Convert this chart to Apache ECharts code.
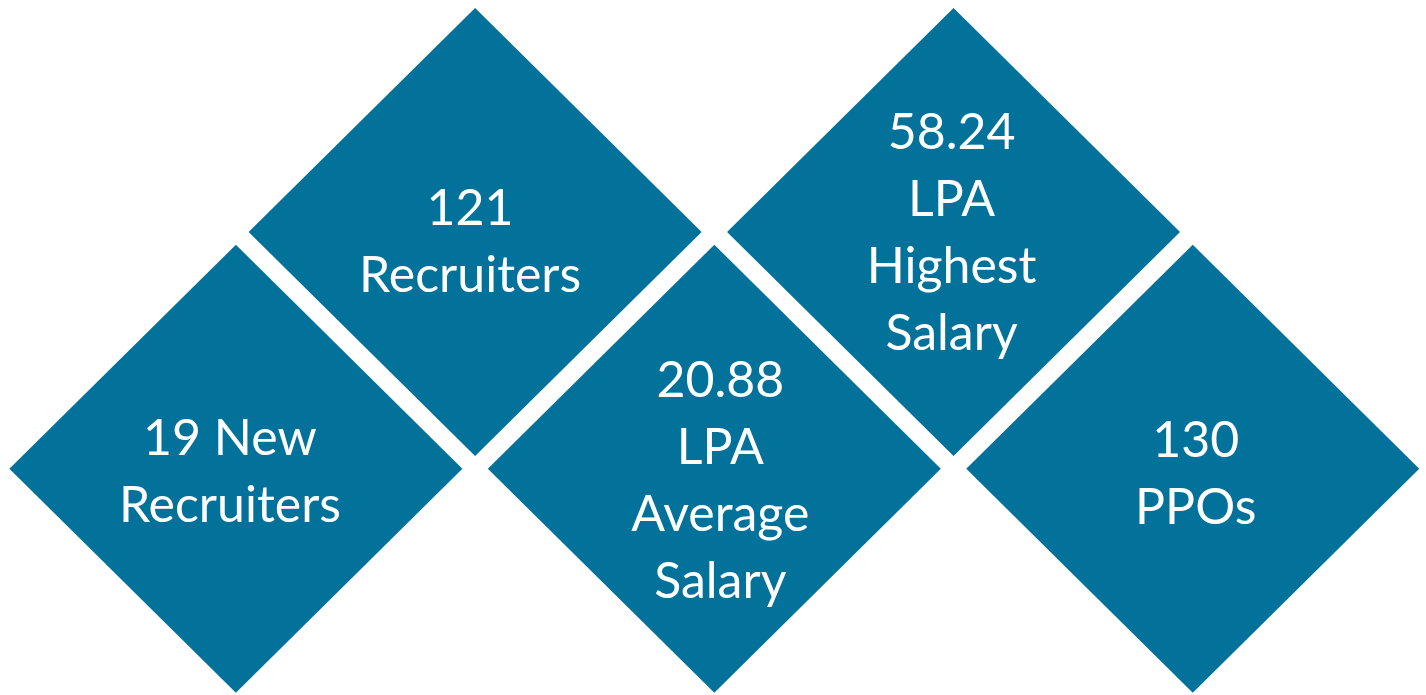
<!DOCTYPE html>
<html>
<head>
<meta charset="utf-8">
<title>Placement highlights</title>
<script src="https://cdn.jsdelivr.net/npm/echarts@6/dist/echarts.min.js"></script>
<style>
  html, body { margin: 0; padding: 0; background: #fff; }
  #chart { width: 1426px; height: 695px; }
</style>
</head>
<body>
<div id="chart"></div>
<script>
// placement figures, one diamond each (left to right)
const figures = ['19', '121', '20.88', '58.24', '130'];
const captions = [' New\nRecruiters', '\nRecruiters', '\nLPA\nAverage\nSalary', '\nLPA\nHighest\nSalary', '\nPPOs'];

// small nudges of the text inside each diamond (style only)
const labelShift = [[-6, 4], [-5, 10], [6, 13], [-2, 1], [3, 6]];

const chart = echarts.init(document.getElementById('chart'));

// even items sit in the lower row, odd items in the upper row
const items = figures.map((f, i) => ({
  name: f + captions[i],
  value: [i, i % 2],
  label: { offset: labelShift[i] }
}));

chart.setOption({
  animation: false,
  backgroundColor: '#ffffff',
  grid: { left: 0, right: 0, top: 0, bottom: 0 },
  xAxis: { type: 'value', min: -0.986, max: 4.975, show: false },
  yAxis: { type: 'value', min: -0.956, max: 1.98, show: false },
  series: [{
    type: 'scatter',
    silent: true,
    clip: false,
    symbol: 'diamond',
    symbolSize: [453, 448],
    itemStyle: { color: '#03729a', opacity: 1 },
    label: {
      show: true,
      position: 'inside',
      color: '#ffffff',
      fontFamily: 'Lato',
      fontSize: 50,
      lineHeight: 67,
      align: 'center',
      formatter: p => p.name
    },
    data: items
  }]
});
</script>
</body>
</html>
